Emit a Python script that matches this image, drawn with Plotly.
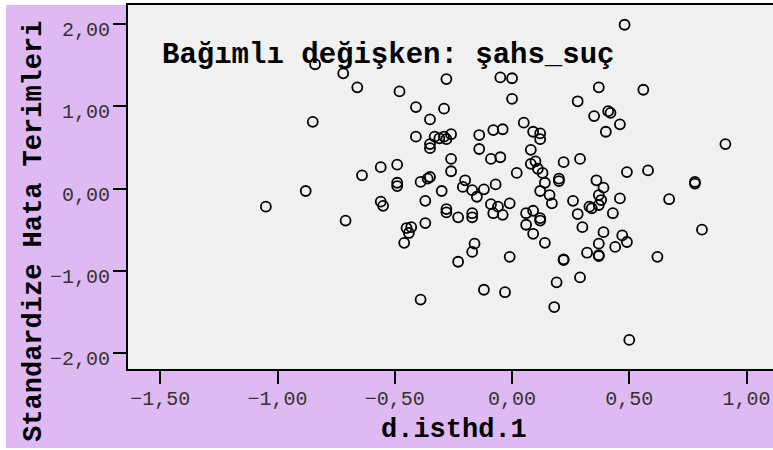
import plotly.graph_objects as go

# Scatter data: d.isthd.1 (x) vs standardized residuals (y)
x_vals = [-1.05, -0.88, -0.85, -0.84, -0.72, -0.66, -0.71, -0.64, -0.56, -0.49,
          -0.49, -0.49, -0.48, -0.41, -0.35, -0.28, -0.29, -0.41, -0.33, -0.31,
          -0.29, -0.26, -0.28, -0.35, -0.35, -0.14, -0.08, -0.04, -0.14, -0.09,
          -0.05, -0.26, -0.26, -0.05, 0.00, 0.00, 0.05, 0.09, 0.12, 0.12,
          0.08, 0.10, 0.08, 0.11, 0.13, 0.14, 0.12, 0.16, 0.17, 0.02,
          -0.39, -0.35, -0.36, -0.30, -0.37, -0.56, -0.55, -0.28, -0.28, -0.20,
          -0.21, -0.17, -0.12, -0.15, -0.07, -0.01, -0.09, -0.06, -0.08, -0.04,
          0.06, 0.09, 0.22, 0.20, 0.20, 0.48, 0.37, 0.56, 0.28, 0.35,
          0.41, 0.42, 0.46, 0.40, 0.91, 0.29, 0.49, 0.58, 0.78, 0.78,
          0.36, 0.39, 0.37, 0.38, 0.37, 0.46, 0.67, 0.26, 0.33, 0.12,
          0.12, 0.06, 0.09, 0.14, 0.28, 0.30, 0.34, 0.43, 0.39, 0.37,
          0.37, 0.37, 0.32, 0.44, 0.47, 0.49, 0.62, 0.81, 0.22, 0.22,
          0.19, 0.29, 0.18, 0.50, -0.45, -0.43, -0.44, -0.46, -0.37, -0.23,
          -0.17, -0.17, -0.16, -0.17, -0.23, -0.39, -0.12, -0.03, -0.01]
y_vals = [-0.22, -0.03, 0.81, 1.51, 1.40, 1.23, -0.39, 0.16, 0.26, 0.29,
          0.07, 0.03, 1.18, 0.99, 0.84, 1.33, 0.97, 0.63, 0.63, 0.61,
          0.63, 0.66, 0.60, 0.54, 0.49, 0.65, 0.71, 0.72, 0.48, 0.36,
          0.38, 0.36, 0.21, 1.35, 1.34, 1.09, 0.80, 0.69, 0.67, 0.60,
          0.47, 0.33, 0.30, 0.24, 0.19, 0.07, -0.03, -0.08, -0.18, 0.19,
          0.08, 0.14, 0.12, -0.03, -0.15, -0.16, -0.21, -0.25, -0.29, 0.10,
          0.02, -0.02, -0.01, -0.10, 0.05, -0.18, -0.19, -0.22, -0.30, -0.32,
          -0.30, -0.27, 0.32, 0.12, 0.09, 1.99, 1.23, 1.20, 1.06, 0.88,
          0.94, 0.92, 0.78, 0.69, 0.54, 0.36, 0.20, 0.22, 0.08, 0.06,
          0.10, 0.01, -0.08, -0.14, -0.20, -0.12, -0.13, -0.15, -0.22, -0.36,
          -0.39, -0.44, -0.55, -0.66, -0.31, -0.47, -0.24, -0.30, -0.53, -0.67,
          -0.81, -0.82, -0.78, -0.71, -0.57, -0.65, -0.83, -0.50, -0.86, -0.87,
          -1.14, -1.08, -1.44, -1.84, -0.48, -0.47, -0.54, -0.66, -0.42, -0.35,
          -0.30, -0.35, -0.67, -0.77, -0.89, -1.35, -1.23, -1.26, -0.83]

x_tickvals = [-1.5, -1.0, -0.5, 0.0, 0.5, 1.0]
x_ticktext = ["−1,50", "−1,00", "−0,50", "0,00", "0,50", "1,00"]
y_tickvals = [-2, -1, 0, 1, 2]
y_ticktext = ["−2,00", "−1,00", "0,00", "1,00", "2,00"]

title_text = "Bağımlı değişken: şahs_suç"
x_title = "d.isthd.1"
y_title = "Standardize Hata Terimleri"

LAV = "#DFB9F2"
MONO = "Liberation Mono, Courier New, monospace"

fig = go.Figure()
fig.add_trace(go.Scatter(
    x=x_vals, y=y_vals, mode="markers",
    marker=dict(symbol="circle-open", size=10, color="black",
                line=dict(width=1.8, color="black")),
    hoverinfo="x+y", showlegend=False))

fig.update_layout(
    width=773, height=450,
    margin=dict(l=128, r=0, t=5, b=81),
    paper_bgcolor=LAV,
    plot_bgcolor="#F0F0F0",
    font=dict(family=MONO, color="#333333"),
    xaxis=dict(range=[-1.638, 1.113], tickvals=x_tickvals, ticktext=x_ticktext,
               showgrid=False, zeroline=False, showline=True, linewidth=2,
               linecolor="black", mirror=True, ticks="outside", ticklen=13,
               tickwidth=2, tickcolor="black", ticklabelstandoff=-3,
               tickfont=dict(family=MONO, size=20, color="#333333")),
    yaxis=dict(range=[-2.193, 2.23], tickvals=y_tickvals, ticktext=y_ticktext,
               showgrid=False, zeroline=False, showline=True, linewidth=2,
               linecolor="black", ticks="outside", ticklen=13,
               tickwidth=2, tickcolor="black", ticklabelshift=5,
               ticklabelstandoff=-1,
               tickfont=dict(family=MONO, size=20, color="#333333")),
    shapes=[
        dict(type="rect", xref="paper", yref="paper", x0=-0.3, x1=1.01,
             y0=1.0, y1=1.1, fillcolor="white", line=dict(width=0), layer="below"),
        dict(type="rect", xref="paper", yref="paper", x0=-0.3, x1=-0.189,
             y0=-0.3, y1=1.1, fillcolor="white", line=dict(width=0), layer="below"),
        dict(type="rect", xref="paper", yref="paper", x0=-0.3, x1=1.01,
             y0=-0.3, y1=-0.217, fillcolor="white", line=dict(width=0), layer="below"),
    ],
    annotations=[
        dict(text="<b>" + title_text + "</b>", xref="paper", yref="paper",
             x=0.0496, y=0.862, xanchor="left", yanchor="middle", showarrow=False,
             font=dict(family=MONO, size=29, color="black")),
        dict(text="<b>" + x_title + "</b>", xref="paper", yref="paper",
             x=0.505, y=-0.168, xanchor="center", yanchor="middle", showarrow=False,
             font=dict(family=MONO, size=27, color="black")),
        dict(text="<b>" + y_title + "</b>", xref="paper", yref="paper",
             x=-0.146, y=0.379, xanchor="center", yanchor="middle", showarrow=False,
             textangle=-90, font=dict(family=MONO, size=27, color="black")),
    ],
)

fig.write_html("out.html", config={"displayModeBar": False},
               post_script="document.body.style.margin='0px';")
